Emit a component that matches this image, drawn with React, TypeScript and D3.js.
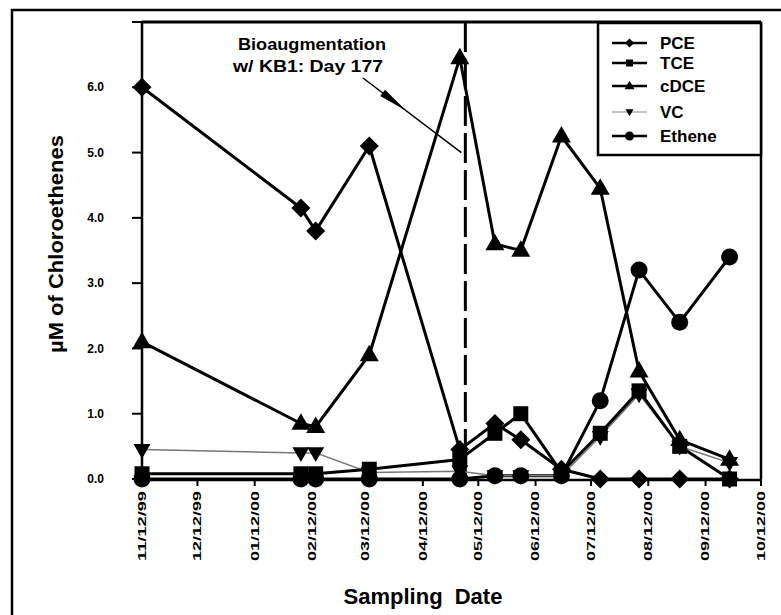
import React from "react";
import * as d3 from "d3";

const sampleDates = ["1999-11-12","2000-02-06","2000-02-14","2000-03-14","2000-05-02","2000-05-21","2000-06-04","2000-06-26","2000-07-17","2000-08-07","2000-08-29","2000-09-25"];
const pce = [6.0, 4.15, 3.8, 5.1, 0.45, 0.85, 0.6, 0.15, 0.0, 0.0, 0.0, 0.0];
const tce = [0.08, 0.08, 0.08, 0.15, 0.3, 0.7, 1.0, 0.1, 0.7, 1.35, 0.5, 0.0];
const cdce = [2.1, 0.85, 0.8, 1.9, 6.45, 3.6, 3.5, 5.25, 4.45, 1.65, 0.6, 0.3];
const vc = [0.45, 0.4, 0.4, 0.1, 0.12, 0.05, 0.05, 0.05, 0.65, 1.3, 0.5, 0.25];
const ethene = [0, 0, 0, 0, 0, 0.05, 0.05, 0.05, 1.2, 3.2, 2.4, 3.4];
const seriesNames = ["PCE", "TCE", "cDCE", "VC", "Ethene"];
const yTicks = [0, 1, 2, 3, 4, 5, 6, 7];
const yTickLabels = ["0.0", "1.0", "2.0", "3.0", "4.0", "5.0", "6.0", ""];
const xStart = "1999-11-12";
const xEnd = "2000-10-12";
const bioDate = "2000-05-05";
const annotationLines = ["Bioaugmentation", "w/ KB1: Day 177"];

const parse = d3.timeParse("%Y-%m-%d");
const fmt = d3.timeFormat("%m/%d/%y");

type Shape = "diamond" | "square" | "triangle" | "invtriangle" | "circle";

function markerPath(shape: Shape, s: number): string {
  const h = s / 2;
  switch (shape) {
    case "diamond":
      return `M0,${-h}L${h},0L0,${h}L${-h},0Z`;
    case "square":
      return `M${-h},${-h}H${h}V${h}H${-h}Z`;
    case "triangle": {
      const t = s * 0.866;
      return `M0,${-t * 0.62}L${h},${t * 0.38}L${-h},${t * 0.38}Z`;
    }
    case "invtriangle": {
      const t = s * 0.866;
      return `M0,${t * 0.62}L${h},${-t * 0.38}L${-h},${-t * 0.38}Z`;
    }
    default:
      return d3.symbol().type(d3.symbolCircle).size(Math.PI * h * h)() as string;
  }
}

export default function App() {
  const W = 781, H = 615;
  const x = d3.scaleTime().domain([parse(xStart)!, parse(xEnd)!]).range([142, 761]);
  const y = d3.scaleLinear().domain([0, 7]).range([479, 22]);
  const dates = sampleDates.map((d) => parse(d)!);
  const months = d3.timeMonth.range(parse(xStart)!, d3.timeDay.offset(parse(xEnd)!, 1)).map((m) => new Date(m.getFullYear(), m.getMonth(), 12));
  const monthTicks = [parse(xStart)!, ...months.filter((m) => m > parse(xStart)! && m <= parse(xEnd)!)];

  const series = [
    { name: seriesNames[4], values: ethene, shape: "circle" as Shape, size: 17, sw: 3, color: "#000" },
    { name: seriesNames[3], values: vc, shape: "invtriangle" as Shape, size: 17, sw: 1.5, color: "#777" },
    { name: seriesNames[1], values: tce, shape: "square" as Shape, size: 15, sw: 3, color: "#000" },
    { name: seriesNames[2], values: cdce, shape: "triangle" as Shape, size: 19, sw: 3, color: "#000" },
    { name: seriesNames[0], values: pce, shape: "diamond" as Shape, size: 19, sw: 3, color: "#000" },
  ];

  const line = d3.line<number>().x((_, i) => x(dates[i])).y((v) => y(v));

  const legendItems = [
    { name: seriesNames[0], shape: "diamond" as Shape, y: 43, sw: 2.5, color: "#000", ms: 9 },
    { name: seriesNames[1], shape: "square" as Shape, y: 63, sw: 2.5, color: "#000", ms: 7 },
    { name: seriesNames[2], shape: "triangle" as Shape, y: 86, sw: 2.5, color: "#000", ms: 10 },
    { name: seriesNames[3], shape: "invtriangle" as Shape, y: 112, sw: 1.2, color: "#888", ms: 8 },
    { name: seriesNames[4], shape: "circle" as Shape, y: 136, sw: 2.5, color: "#000", ms: 9 },
  ];

  const bx = x(parse(bioDate)!);
  const a0 = [363, 78];
  const a1 = [bx - 4, y(5.0)];
  const dx = a1[0] - a0[0], dy = a1[1] - a0[1];
  const len = Math.hypot(dx, dy);
  const ux = dx / len, uy = dy / len;
  const px = -uy, py = ux;
  const tip = [a0[0] + ux * len * 0.44, a0[1] + uy * len * 0.44];
  const base = [a0[0] + ux * len * 0.2, a0[1] + uy * len * 0.2];

  const font = "Arial, 'Liberation Sans', Helvetica, sans-serif";

  return (
    <svg width={W} height={H} style={{ position: "absolute", left: 0, top: 0, background: "#fff" }} fontFamily={font}>
      <rect x={0} y={0} width={W} height={H} fill="#fff" />
      <rect x={12} y={10} width={820} height={700} fill="none" stroke="#000" strokeWidth={2.5} />

      <line x1={bx} x2={bx} y1={y(7)} y2={y(0)} stroke="#000" strokeWidth={3} strokeDasharray="30 7" />

      {series.map((s) => (
        <path key={s.name + "l"} d={line(s.values) as string} fill="none" stroke={s.color} strokeWidth={s.sw} strokeLinejoin="round" />
      ))}
      {series.map((s) => (
        <g key={s.name + "m"}>
          {s.values.map((v, i) => (
            <path key={i} d={markerPath(s.shape, s.size)} transform={`translate(${x(dates[i])},${y(v)})`} fill="#000" />
          ))}
        </g>
      ))}

      <line x1={142} x2={761} y1={y(7)} y2={y(7)} stroke="#000" strokeWidth={3} />
      <line x1={761} x2={761} y1={y(7)} y2={y(0)} stroke="#000" strokeWidth={2.5} />
      <line x1={142} x2={142} y1={y(7)} y2={y(0) + 1} stroke="#000" strokeWidth={2.5} />
      <line x1={142} x2={762} y1={y(0) + 1} y2={y(0) + 1} stroke="#000" strokeWidth={2.5} />

      {yTicks.map((t, i) => (
        <g key={"yt" + t}>
          <line x1={132} x2={142} y1={y(t)} y2={y(t)} stroke="#000" strokeWidth={2} />
          {yTickLabels[i] && (
            <text x={104} y={y(t)} dy="0.35em" textAnchor="end" fontSize={12} fontWeight="bold">{yTickLabels[i]}</text>
          )}
        </g>
      ))}

      {monthTicks.map((m) => (
        <g key={"xt" + m.getTime()}>
          <line x1={x(m)} x2={x(m)} y1={y(0)} y2={y(0) + 7} stroke="#000" strokeWidth={2} />
          <text transform={`translate(${x(m)},${y(0) + 12}) rotate(-90)`} dy="0.35em" textAnchor="end" fontSize={11} fontWeight="bold" textLength={70} lengthAdjust="spacingAndGlyphs">{fmt(m)}</text>
        </g>
      ))}

      <text x={423} y={604} textAnchor="middle" fontSize={22} fontWeight="bold" wordSpacing={6}>Sampling Date</text>
      <text transform={`translate(63,244) rotate(-90)`} textAnchor="middle" fontSize={20} fontWeight="bold" textLength={218} lengthAdjust="spacingAndGlyphs">µM of Chloroethenes</text>

      <text x={312} y={50} textAnchor="middle" fontSize={16} fontWeight="bold" textLength={148} lengthAdjust="spacingAndGlyphs">{annotationLines[0]}</text>
      <text x={308} y={72} textAnchor="middle" fontSize={16} fontWeight="bold" textLength={150} lengthAdjust="spacingAndGlyphs">{annotationLines[1]}</text>
      <line x1={a0[0]} y1={a0[1]} x2={a1[0]} y2={a1[1]} stroke="#000" strokeWidth={1.5} />
      <path d={`M${tip[0]},${tip[1]}L${base[0] + px * 4},${base[1] + py * 4}L${base[0] - px * 4},${base[1] - py * 4}Z`} fill="#000" />

      <rect x={598} y={23} width={163} height={132} fill="#fff" stroke="#000" strokeWidth={2.5} />
      {legendItems.map((l) => (
        <g key={"lg" + l.name}>
          <line x1={612} x2={647} y1={l.y} y2={l.y} stroke={l.color} strokeWidth={l.sw} />
          <path d={markerPath(l.shape, l.ms)} transform={`translate(629.5,${l.y})`} fill="#000" />
          <text x={660} y={l.y} dy="0.36em" fontSize={17} fontWeight="bold">{l.name}</text>
        </g>
      ))}
    </svg>
  );
}
